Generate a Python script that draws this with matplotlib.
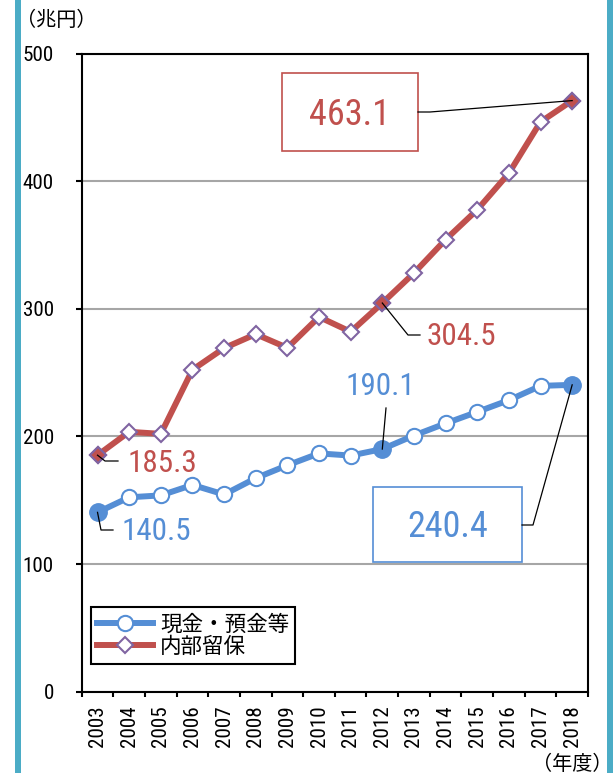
import numpy as np
import matplotlib
matplotlib.use("Agg")
import matplotlib.pyplot as plt
from matplotlib import font_manager as fm
from matplotlib.patches import Rectangle
from matplotlib.lines import Line2D

# ---- data (兆円) ----
years = [str(y) for y in range(2003, 2019)]
cash = [140.5, 152.3, 153.8, 162.0, 154.5, 167.3, 177.4, 186.7,
        185.0, 190.1, 200.7, 210.2, 219.2, 228.4, 239.6, 240.4]
retained = [185.3, 203.6, 202.0, 252.2, 269.2, 280.1, 269.4, 293.6,
            282.0, 304.5, 328.0, 354.2, 377.6, 406.2, 446.4, 463.1]
series_names = ["現金・預金等", "内部留保"]
highlight = [0, 9, 15]          # points that carry a value label

BLUE = "#558ED5"
RED = "#C0504D"
PURPLE = "#8064A2"
TEAL = "#4BACC6"
GRID = "#A6A6A6"


def first_font(*names):
    for n in names:
        try:
            fm.findfont(fm.FontProperties(family=n), fallback_to_default=False)
            return n
        except ValueError:
            continue
    return "DejaVu Sans"


# narrow face for numbers, with a size factor per family
NUM = first_font("Liberation Sans Narrow", "Roboto Condensed", "Arial Narrow",
                 "Liberation Sans")
NSCALE = {"Liberation Sans Narrow": 1.0, "Roboto Condensed": 0.95,
          "Arial Narrow": 1.0}.get(NUM, 0.92)
TSCALE = {"Liberation Sans Narrow": 1.0, "Roboto Condensed": 0.95,
          "Arial Narrow": 1.0}.get(NUM, 0.875)
CJK = first_font("Noto Sans CJK JP", "Noto Sans CJK SC")

W, H = 613, 773
fig = plt.figure(figsize=(W / 100, H / 100), dpi=100)
fig.patch.set_facecolor("white")


def fx(px):
    return px / W


def fy(py):
    return 1 - py / H


ax = fig.add_axes([fx(81.7), fy(691.7), fx(588) - fx(81.7), fy(53.5) - fy(691.7)])

x = np.arange(len(years))
ax.plot(x, cash, color=BLUE, lw=4.3, marker="o", ms=11, mfc="white",
        mec=BLUE, mew=1.5, zorder=3)
ax.plot(x, retained, color=RED, lw=4.3, marker="D", ms=8.3, mfc="white",
        mec=PURPLE, mew=1.5, zorder=4)
ax.plot(x[highlight], [cash[i] for i in highlight], "o", ms=12.5,
        color=BLUE, zorder=5)
ax.plot(x[highlight], [retained[i] for i in highlight], "D", ms=8.6,
        mfc=RED, mec=PURPLE, mew=1.5, zorder=6)

ax.set_xlim(-0.5, len(years) - 0.5)
ax.set_ylim(0, 500)
ax.set_yticks([0, 100, 200, 300, 400, 500])
ax.yaxis.grid(True, color=GRID, lw=1.5)
ax.set_axisbelow(True)
for s in ax.spines.values():
    s.set_color("black")
    s.set_linewidth(1.5)

ax.tick_params(axis="y", direction="out", length=4, width=1.5, pad=16,
               labelsize=16 * TSCALE, labelfontfamily=NUM)
ax.set_xticks(x)
ax.set_xticklabels(years, rotation=90)
ax.set_xticks(np.arange(-0.5, len(years), 1), minor=True)
ax.tick_params(axis="x", which="major", length=0, pad=9.6,
               labelsize=16 * TSCALE, labelfontfamily=NUM)
ax.tick_params(axis="x", which="minor", direction="out", length=3.6, width=1.5)

# unit labels
fig.text(fx(16), fy(21), "（兆円）", fontsize=14.5, family=CJK, ha="left", va="center")
fig.text(fx(613), fy(764), "（年度）", fontsize=14.5, family=CJK, ha="right", va="center")

# legend
handles = [
    Line2D([], [], color=BLUE, lw=4.3, marker="o", ms=11, mfc="white", mec=BLUE, mew=1.5),
    Line2D([], [], color=RED, lw=4.3, marker="D", ms=8.3, mfc="white", mec=PURPLE, mew=1.5),
]
leg = ax.legend(handles, series_names, loc="upper left",
                bbox_to_anchor=(fx(91), fy(607)), bbox_transform=fig.transFigure,
                prop=fm.FontProperties(family=CJK, size=15.5), frameon=True,
                fancybox=False, edgecolor="black", framealpha=1,
                borderpad=0.3, handlelength=2.6, handletextpad=0.3,
                labelspacing=0.02, borderaxespad=0)
leg.get_frame().set_linewidth(1.5)
leg.set_zorder(10)


def data_px(i, v):
    dx, dy = ax.transData.transform((i, v))
    return dx, H - dy


def leader(points, i, v):
    pts = list(points) + [data_px(i, v)]
    fig.add_artist(Line2D([fx(p[0]) for p in pts], [fy(p[1]) for p in pts],
                          color="black", lw=0.9, transform=fig.transFigure, zorder=8))


def label(val, px, py, color, size, ha="left"):
    fig.text(fx(px), fy(py), f"{val:.1f}", color=color, fontsize=size * NSCALE,
             family=NUM, ha=ha, va="baseline", zorder=9)


def box(x0, y0, x1, y1, color):
    fig.add_artist(Rectangle((fx(x0), fy(y1)), fx(x1) - fx(x0), fy(y0) - fy(y1),
                             transform=fig.transFigure, facecolor="white",
                             edgecolor=color, lw=1.2, zorder=7))


# boxed labels for the last year
box(282, 73, 418, 151, RED)
label(retained[15], 350, 125, RED, 27.5, ha="center")
leader([(418, 112), (430, 112)], 15, retained[15])

box(373, 487, 522, 562, BLUE)
label(cash[15], 447.5, 536.7, BLUE, 27.5, ha="center")
leader([(522, 525), (533, 525)], 15, cash[15])

# plain labels
label(retained[9], 427, 345, RED, 23.6)
leader([(420, 335), (408, 335)], 9, retained[9])

label(cash[9], 346, 395, BLUE, 23.6)
leader([(386, 408)], 9, cash[9])

label(retained[0], 127, 471.7, RED, 23.6)
leader([(118, 461), (105, 461)], 0, retained[0])

label(cash[0], 122, 540, BLUE, 23.6)
leader([(113, 530), (101, 530)], 0, cash[0])

# side bars
fig.add_artist(Rectangle((fx(15), 0), fx(21) - fx(15), 1, transform=fig.transFigure,
                         facecolor=TEAL, edgecolor="none", zorder=1))
fig.add_artist(Rectangle((fx(607), 0), fx(613) - fx(607), 1, transform=fig.transFigure,
                         facecolor=TEAL, edgecolor="none", zorder=1))

fig.savefig("out.png", dpi=100, facecolor="white")
